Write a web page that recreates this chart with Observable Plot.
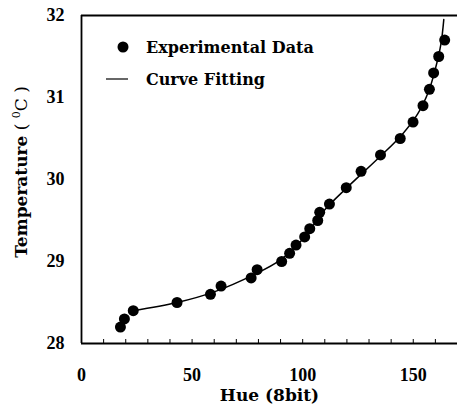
<!DOCTYPE html>
<html>
<head>
<meta charset="utf-8">
<script src="https://cdn.jsdelivr.net/npm/d3@7"></script>
<script src="https://cdn.jsdelivr.net/npm/@observablehq/plot@0.6"></script>
<style>
  html, body { margin: 0; padding: 0; background: white; }
</style>
</head>
<body>
<div id="chart"></div>
<script>
// Experimental data (Hue 8bit vs Temperature °C)
const hue  = [17.6, 19.4, 23.4, 43.2, 58.3, 63.1, 76.7, 79.4, 90.5, 94.1, 97.0, 100.9, 103.2, 106.8, 107.7, 112.1, 119.7, 126.4, 135.2, 144.1, 149.9, 154.4, 157.3, 159.2, 161.5, 164.2];
const temp = [28.2, 28.3, 28.4, 28.5, 28.6, 28.7, 28.8, 28.9, 29.0, 29.1, 29.2, 29.3, 29.4, 29.5, 29.6, 29.7, 29.9, 30.1, 30.3, 30.5, 30.7, 30.9, 31.1, 31.3, 31.5, 31.7];

// Curve fitting
const fitHue  = [23.4, 43.2, 60.0, 78.0, 90.0, 100.0, 110.0, 120.0, 135.0, 145.0, 152.0, 157.0, 160.0, 162.5, 163.8];
const fitTemp = [28.40, 28.50, 28.63, 28.84, 29.02, 29.27, 29.63, 29.90, 30.28, 30.55, 30.80, 31.08, 31.35, 31.65, 31.95];

// Ticks
const xTicks = [0, 50, 100, 150];
const yTicks = [28, 29, 30, 31, 32];
const xMinor = [10, 20, 30, 40, 50, 60, 70, 80, 90, 100, 110, 120, 130, 140, 150, 160];

const data = hue.map((h, i) => ({hue: h, temp: temp[i]}));
const fit = fitHue.map((h, i) => ({hue: h, temp: fitTemp[i]}));

const tickFont = "Liberation Serif";
const labelFont = "DejaVu Serif";

const chart = Plot.plot({
  width: 457,
  height: 415,
  marginLeft: 81,
  marginRight: 0,
  marginTop: 15,
  marginBottom: 72,
  x: {domain: [0, 170], axis: null},
  y: {domain: [28, 32], axis: null},
  style: {background: "white", color: "black", overflow: "visible"},
  marks: [
    Plot.axisX(xMinor, {anchor: "bottom", tickSize: 4, dy: -4, text: null, label: null, strokeWidth: 1}),
    Plot.ruleX([0], {stroke: "black", strokeWidth: 1.8}),
    Plot.ruleY([28], {stroke: "black", strokeWidth: 1.8}),
    Plot.ruleY([32], {stroke: "black", strokeWidth: 1.8}),
    Plot.text(xTicks, {x: d => d, frameAnchor: "bottom", dy: 32, lineAnchor: "middle", text: d => String(d), fontFamily: tickFont, fontWeight: "bold", fontSize: 18}),
    Plot.text(yTicks, {y: d => d, frameAnchor: "left", dx: -17, textAnchor: "end", lineAnchor: "middle", text: d => String(d), fontFamily: tickFont, fontWeight: "bold", fontSize: 18}),
    Plot.text(["Hue (8bit)"], {frameAnchor: "bottom", dy: 52, lineAnchor: "middle", fontFamily: labelFont, fontWeight: "bold", fontSize: 17}),
    Plot.line(fit, {x: "hue", y: "temp", curve: "catmull-rom", stroke: "black", strokeWidth: 1.5}),
    Plot.dot(data, {x: "hue", y: "temp", r: 5.5, fill: "black", stroke: "none"})
  ]
});

const svg = d3.select(chart);

// Y axis title with superscript
const yt = svg.append("text")
  .attr("transform", "translate(21,172) rotate(-90)")
  .attr("text-anchor", "middle")
  .attr("dominant-baseline", "central")
  .attr("font-family", labelFont)
  .attr("font-size", 17)
  .attr("fill", "black");
yt.append("tspan").attr("font-weight", "bold").text("Temperature");
yt.append("tspan").attr("font-weight", "normal").text(" ( ");
yt.append("tspan").attr("font-weight", "normal").attr("font-size", 11).attr("dy", -5).text("0");
yt.append("tspan").attr("font-weight", "normal").attr("dy", 5).text("C )");

// Legend
const lg = svg.append("g").attr("font-family", labelFont).attr("font-weight", "bold").attr("font-size", 16).attr("fill", "black").attr("text-anchor", "start");
lg.append("circle").attr("cx", 123).attr("cy", 47).attr("r", 5.5).attr("fill", "black");
lg.append("text").attr("x", 146).attr("y", 47).attr("text-anchor", "start").attr("dominant-baseline", "central").text("Experimental Data");
lg.append("line").attr("x1", 106).attr("x2", 128).attr("y1", 79).attr("y2", 79).attr("stroke", "black").attr("stroke-width", 1.2);
lg.append("text").attr("x", 146).attr("y", 79).attr("text-anchor", "start").attr("dominant-baseline", "central").text("Curve Fitting");

document.getElementById("chart").appendChild(chart);
</script>
</body>
</html>
